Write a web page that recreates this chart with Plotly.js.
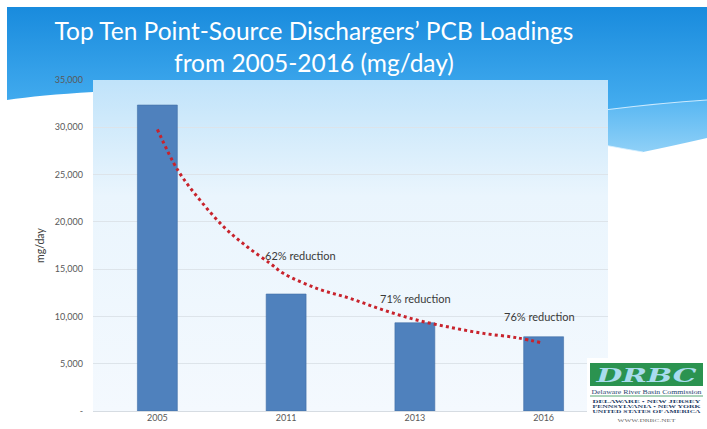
<!DOCTYPE html>
<html>
<head>
<meta charset="utf-8">
<script src="https://cdn.plot.ly/plotly-3.0.1.min.js"></script>
<style>
  html, body { margin: 0; padding: 0; background: #ffffff; }
  #wrap { position: relative; width: 707px; height: 429px; overflow: hidden; }
  #bg, #chart, #logo { position: absolute; left: 0; top: 0; }
  #logo { pointer-events: none; }
</style>
</head>
<body>
<div id="wrap">
  <svg id="bg" width="707" height="429" xmlns="http://www.w3.org/2000/svg">
    <defs>
      <linearGradient id="sky" x1="0" y1="0" x2="0" y2="1">
        <stop offset="0" stop-color="#198bdd"/>
        <stop offset="1" stop-color="#46aef0"/>
      </linearGradient>
      <linearGradient id="swoosh" x1="0" y1="0" x2="0" y2="1">
        <stop offset="0" stop-color="#57b6f2"/>
        <stop offset="1" stop-color="#8fd0f7"/>
      </linearGradient>
      <linearGradient id="plotbg" x1="0" y1="0" x2="0" y2="1">
        <stop offset="0" stop-color="#c0e3fa"/>
        <stop offset="0.35" stop-color="#eaf5fd"/>
        <stop offset="1" stop-color="#f4f9fe"/>
      </linearGradient>
    </defs>
    <rect x="0" y="0" width="707" height="429" fill="#ffffff"/>
    <path d="M7,7 L707,7 L707,104 Q660,105 604,112 L93,92 Q40,95 7,100 Z" fill="url(#sky)"/>
    <path d="M604,110 Q660,103 707,100 L707,138 Q672,146 643,152 Q625,149 604,145 Z" fill="url(#swoosh)"/>
    <path d="M604,110 Q660,103 707,100" stroke="#d8f0ff" stroke-width="1.2" fill="none" opacity="0.9"/>
    <path d="M604,145 Q625,149 643,152" stroke="#d8f0ff" stroke-width="1" fill="none" opacity="0.8"/>
    <rect x="93" y="80" width="515" height="331" fill="url(#plotbg)"/>
  </svg>
  <div id="chart" style="width:707px;height:429px;"></div>
  <svg id="logo" width="707" height="429" xmlns="http://www.w3.org/2000/svg">
    <rect x="587" y="358" width="120" height="71" fill="#ffffff"/>
    <rect x="590" y="363" width="113" height="23" fill="#2b9350"/>
    <text x="646.5" y="382" text-anchor="middle" font-family="DejaVu Serif" font-weight="bold" font-style="italic" font-size="19" fill="#a9dcee" textLength="100" lengthAdjust="spacingAndGlyphs">DRBC</text>
    <text x="646.5" y="393.5" text-anchor="middle" font-family="Liberation Serif" font-size="7" fill="#1f4670" textLength="110" lengthAdjust="spacingAndGlyphs">Delaware River Basin Commission</text>
    <line x1="590" y1="396" x2="703" y2="396" stroke="#2b9350" stroke-width="0.8"/>
    <text x="646.5" y="402.5" text-anchor="middle" font-family="Liberation Serif" font-weight="bold" font-size="5" fill="#1f3d66" textLength="108" lengthAdjust="spacingAndGlyphs">DELAWARE   •   NEW JERSEY</text>
    <text x="646.5" y="407.7" text-anchor="middle" font-family="Liberation Serif" font-weight="bold" font-size="5" fill="#1f3d66" textLength="108" lengthAdjust="spacingAndGlyphs">PENNSYLVANIA • NEW YORK</text>
    <text x="646.5" y="412.9" text-anchor="middle" font-family="Liberation Serif" font-weight="bold" font-size="5" fill="#1f3d66" textLength="108" lengthAdjust="spacingAndGlyphs">UNITED STATES OF AMERICA</text>
    <text x="646.5" y="421.5" text-anchor="middle" font-family="Liberation Serif" font-size="4.8" fill="#666666" textLength="58" lengthAdjust="spacingAndGlyphs">WWW.DRBC.NET</text>
  </svg>
</div>
<script>
// ---- data ----
const years = ["2005", "2011", "2013", "2016"];
const loadings = [32350, 12370, 9330, 7850];           // mg/day
const reductionLabels = ["62% reduction", "71% reduction", "76% reduction"];
const reductionYears = ["2011", "2013", "2016"];
const reductionLabelY = [16400, 11850, 9950];           // vertical position of labels (mg/day)
// dotted trend curve (x = category position, 0 = 2005)
const trendX = [0, 0.158, 0.331, 0.515, 0.694, 0.876, 0.978, 1.237, 1.496, 1.755, 2.014, 2.273, 2.531, 2.791, 3.0];
const trendY = [29780, 25480, 22300, 19480, 17400, 15600, 14560, 12970, 11910, 10680, 9620, 8850, 8210, 7750, 7160];
const yTickVals = [0, 5000, 10000, 15000, 20000, 25000, 30000, 35000];
const yTickText = ["-", "5,000", "10,000", "15,000", "20,000", "25,000", "30,000", "35,000"];

const bars = {
  type: "bar",
  x: years,
  y: loadings,
  marker: { color: "#4f81bd", line: { color: "#416fa6", width: 0.6 } },
  hoverinfo: "x+y"
};

const trend = {
  type: "scatter",
  mode: "lines",
  x: trendX,
  y: trendY,
  xaxis: "x2",
  yaxis: "y",
  line: { color: "#c8232c", width: 3, dash: "3px,3.2px", shape: "spline" },
  hoverinfo: "skip"
};

// label x offsets in category units (labels start left of the bar centres)
const labelShift = [-0.18, -0.29, -0.32];
const annotations = reductionLabels.map((t, i) => ({
  x: years.indexOf(reductionYears[i]) + labelShift[i],
  y: reductionLabelY[i],
  xref: "x2", yref: "y",
  text: t,
  showarrow: false,
  xanchor: "left", yanchor: "middle",
  font: { family: "Lato, 'Open Sans', sans-serif", size: 11, color: "#3a3a3a" }
}));

const layout = {
  width: 707, height: 429,
  margin: { l: 93, r: 99, t: 80, b: 18, pad: 0 },
  paper_bgcolor: "rgba(0,0,0,0)",
  plot_bgcolor: "rgba(0,0,0,0)",
  showlegend: false,
  bargap: 0.69,
  title: {
    text: "Top Ten Point-Source Dischargers’ PCB Loadings<br>from 2005-2016 (mg/day)",
    x: 314 / 707, xanchor: "center", xref: "container",
    y: 1 - 40 / 429, yanchor: "top", yref: "container",
    font: { family: "Lato, 'Open Sans', sans-serif", size: 24.5, color: "#ffffff" }
  },
  xaxis: {
    type: "category",
    range: [-0.5, 3.5],
    showgrid: false,
    showline: false,
    zeroline: false,
    ticks: "",
    tickfont: { family: "Lato, 'Open Sans', sans-serif", size: 9, color: "#595959" },
    fixedrange: true
  },
  xaxis2: {
    overlaying: "x",
    range: [-0.5, 3.5],
    visible: false,
    fixedrange: true
  },
  yaxis: {
    range: [0, 35000],
    tickvals: yTickVals,
    ticktext: yTickText,
    showgrid: true,
    gridcolor: "#dde4ea",
    gridwidth: 1,
    zeroline: true,
    zerolinecolor: "#d6dce2",
    zerolinewidth: 1,
    showline: false,
    ticks: "",
    ticklabelstandoff: 9,
    tickfont: { family: "Lato, 'Open Sans', sans-serif", size: 9, color: "#595959" },
    title: { text: "mg/day", standoff: 8, font: { family: "Lato, 'Open Sans', sans-serif", size: 10.5, color: "#404040" } },
    automargin: false,
    fixedrange: true
  },
  annotations: annotations
};

Plotly.newPlot("chart", [bars, trend], layout, { displayModeBar: false, staticPlot: true });
</script>
</body>
</html>
